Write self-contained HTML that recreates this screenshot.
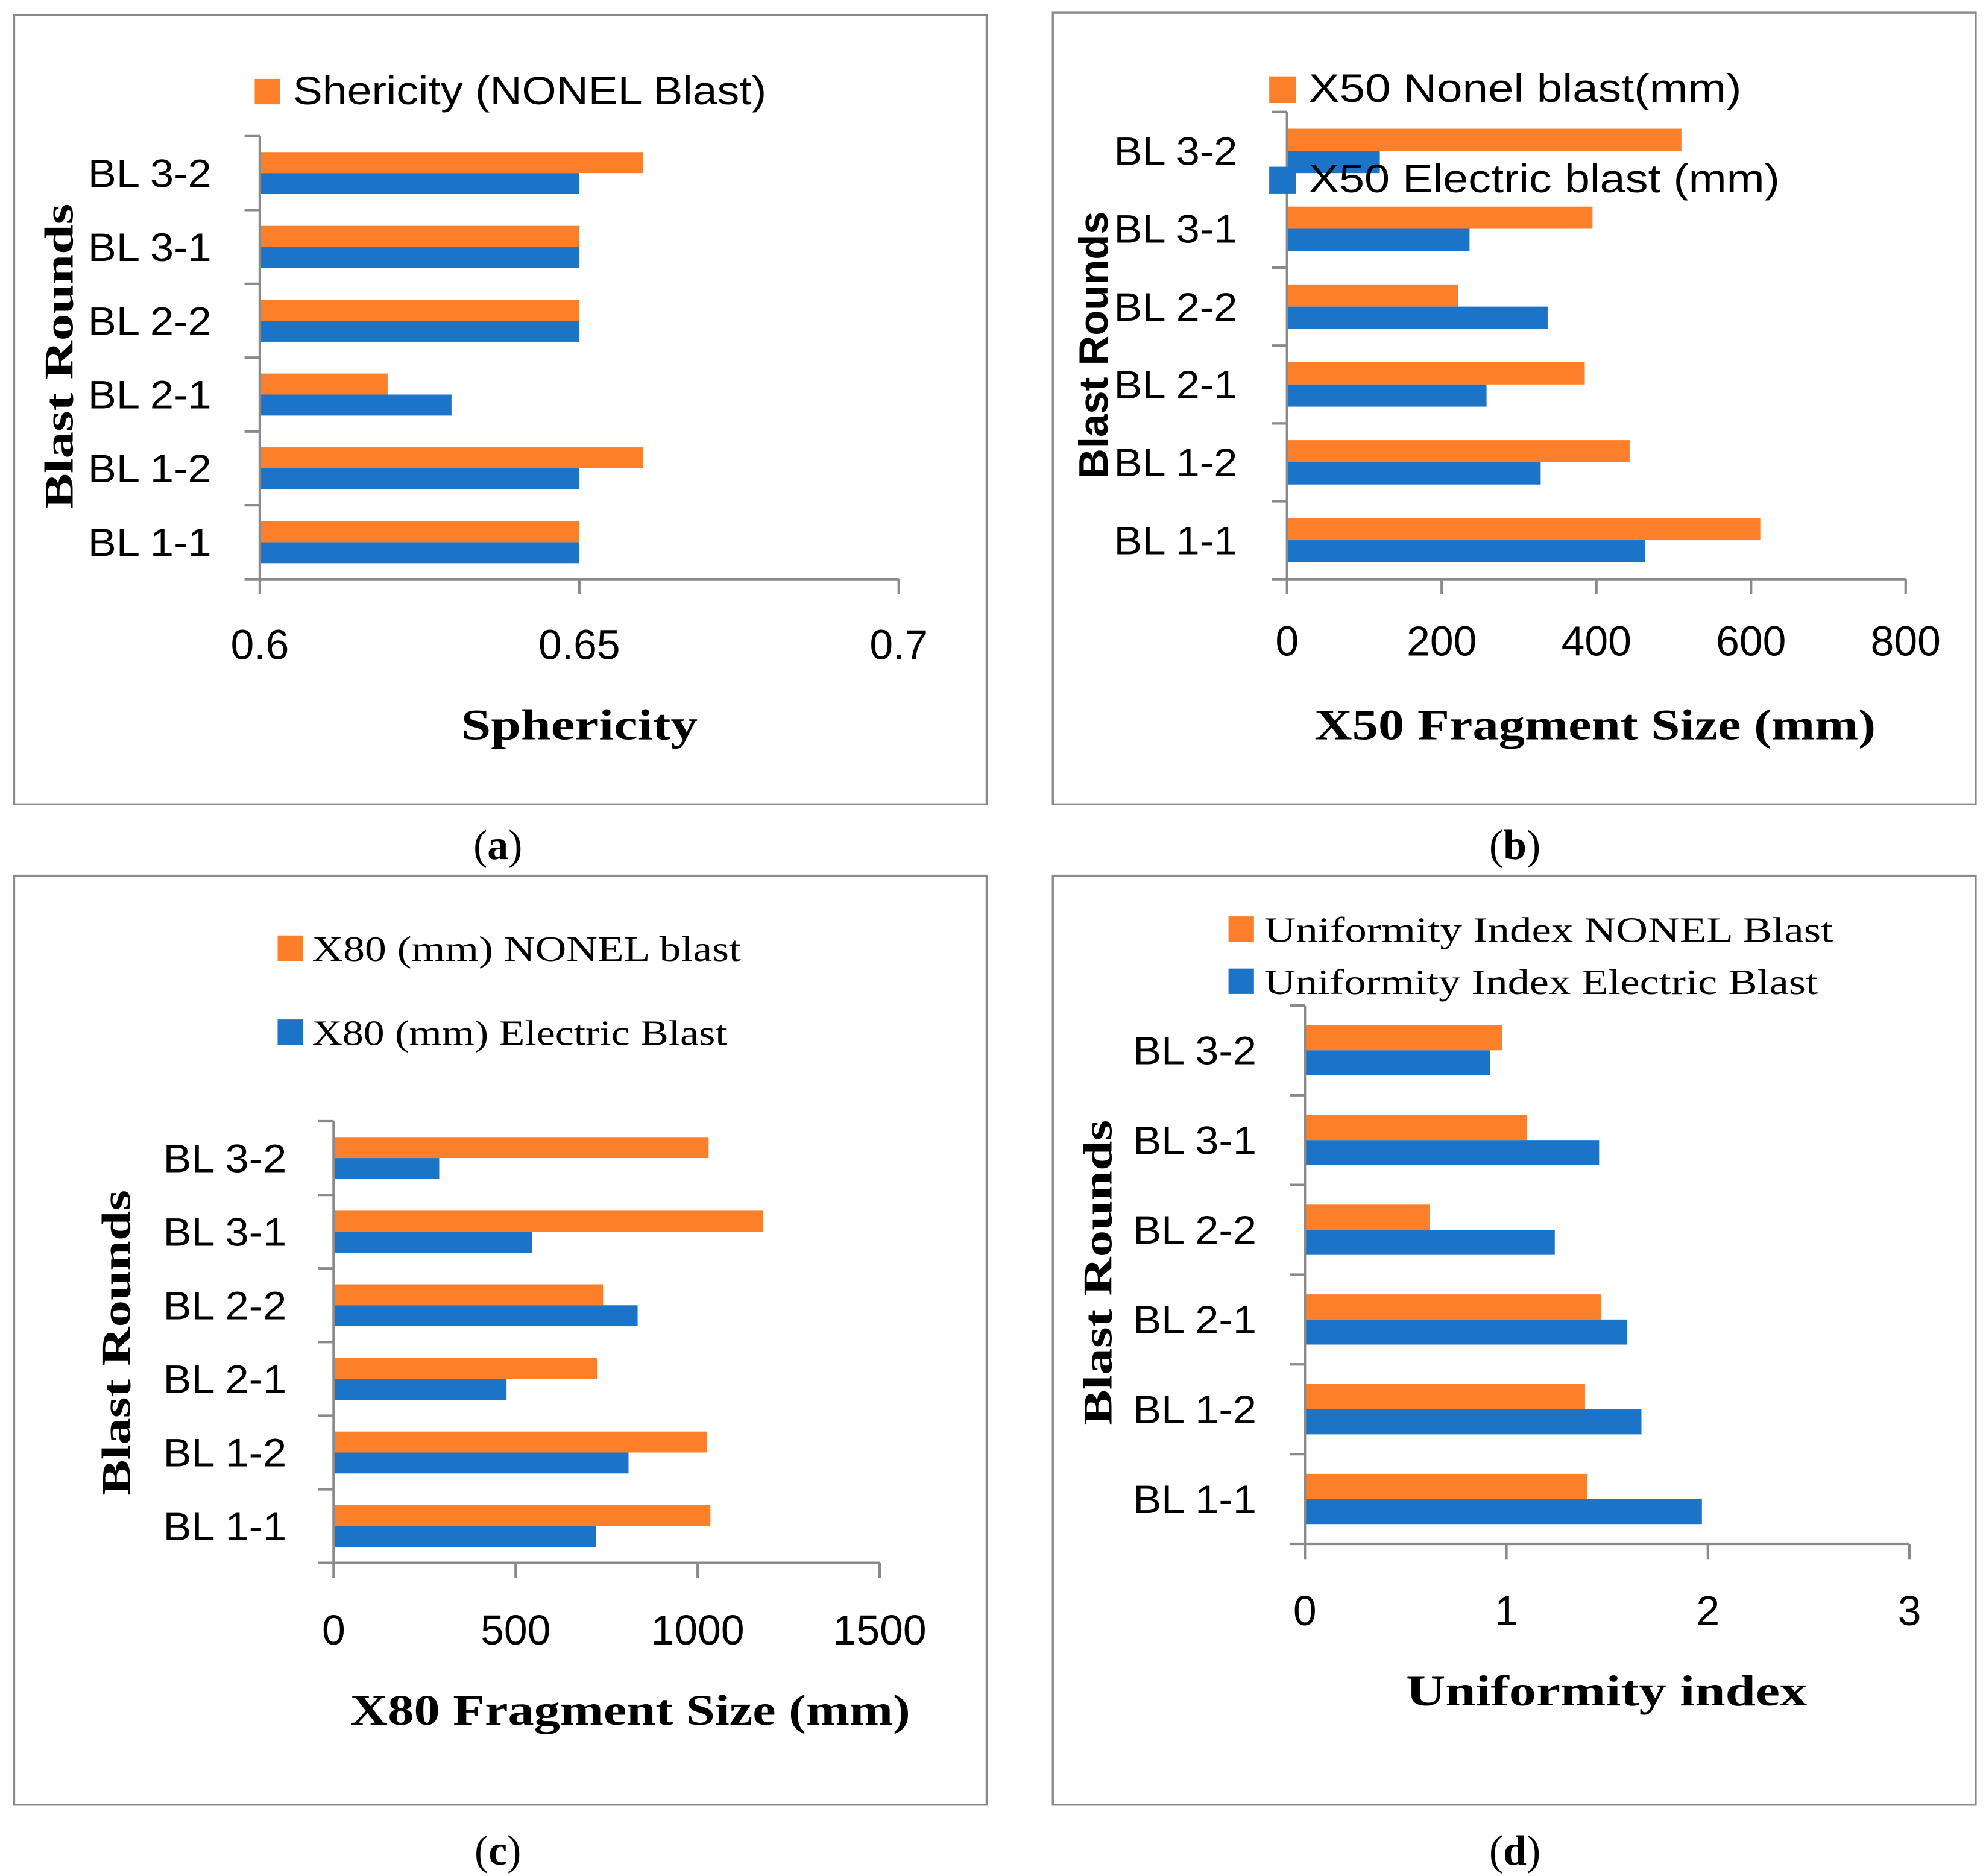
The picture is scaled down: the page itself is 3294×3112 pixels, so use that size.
<!DOCTYPE html>
<html><head><meta charset="utf-8"><style>html,body{margin:0;padding:0;background:#fff}svg{display:block}</style></head>
<body>
<svg id="fig" xmlns="http://www.w3.org/2000/svg" width="3294" height="3112" viewBox="0 0 1560 1474">
<rect x="0" y="0" width="1560" height="1474" fill="#fff"/>
</svg>
<script>
const categories = ["BL 1-1","BL 1-2","BL 2-1","BL 2-2","BL 3-1","BL 3-2"];
const sphNonel = [0.65,0.66,0.62,0.65,0.65,0.66];
const sphElec = [0.65,0.65,0.63,0.65,0.65,0.65];
const sphTicks = ["0.6","0.65","0.7"];
const x50Nonel = [612,443,385,221,395,510];
const x50Elec = [463,328,258,337,236,120];
const x50Ticks = ["0","200","400","600","800"];
const x80Nonel = [1035,1025,725,740,1180,1030];
const x80Elec = [720,810,475,835,545,290];
const x80Ticks = ["0","500","1000","1500"];
const uiNonel = [1.40,1.39,1.47,0.62,1.10,0.98];
const uiElec = [1.97,1.67,1.60,1.24,1.46,0.92];
const uiTicks = ["0","1","2","3"];

const NS="http://www.w3.org/2000/svg";
const svg=document.getElementById('fig');
const ORANGE="#fd7f2a", BLUE="#1b74c8", GREY="#8a8a8a";
function mk(tag,attrs,parent){const e=document.createElementNS(NS,tag);for(const k in attrs)e.setAttribute(k,attrs[k]);(parent||svg).appendChild(e);return e;}
function txt(s,attrs,parent){const e=mk('text',attrs,parent);e.textContent=s;return e;}

function chart(cfg){
  const g=mk('g',{});
  
  
  const box=mk('rect',{x:cfg.box[0],y:cfg.box[1],width:cfg.box[2]-cfg.box[0],height:cfg.box[3]-cfg.box[1],fill:'none',stroke:GREY,'stroke-width':1.6},g);
  
  
  const tmin=parseFloat(cfg.ticks[0]), tmax=parseFloat(cfg.ticks[cfg.ticks.length-1]);
  const xs=v=>cfg.x0+(v-tmin)/(tmax-tmin)*(cfg.x1-cfg.x0);
  const n=categories.length, band=(cfg.yb-cfg.yt)/n;
  const bh=band*cfg.bf;
  for(let i=0;i<n;i++){
    const top=cfg.yb-(i+1)*band;
    const oy=top+(band-2*bh)/2;
    const ob=mk('rect',{x:cfg.x0,y:oy,width:xs(cfg.nonel[i])-cfg.x0,height:bh,fill:ORANGE},g);
    
    
    const eb=mk('rect',{x:cfg.x0,y:oy+bh,width:xs(cfg.elec[i])-cfg.x0,height:bh,fill:BLUE},g);
    
    
    const lb=txt(categories[i],{x:cfg.labX,y:top+band/2+11,'text-anchor':'end','font-family':'"Liberation Sans",sans-serif','font-size':31,fill:'#000',textLength:97,lengthAdjust:'spacingAndGlyphs'},g);
    
    
  }
  const ya=mk('line',{x1:cfg.x0,y1:cfg.yt,x2:cfg.x0,y2:cfg.yb,stroke:GREY,'stroke-width':2},g);
  
  
  const xa=mk('line',{x1:cfg.x0-12,y1:cfg.yb,x2:cfg.x1,y2:cfg.yb,stroke:GREY,'stroke-width':2},g);
  
  
  for(let i=0;i<n;i++){
    mk('line',{x1:cfg.x0-12,y1:cfg.yt+i*band,x2:cfg.x0,y2:cfg.yt+i*band,stroke:GREY,'stroke-width':2},g);
  }
  cfg.ticks.forEach(t=>{
    const x=xs(parseFloat(t));
    mk('line',{x1:x,y1:cfg.yb,x2:x,y2:cfg.yb+12,stroke:GREY,'stroke-width':2},g);
    const tl=txt(t,{x:x,y:cfg.tickY,'text-anchor':'middle','font-family':'"Liberation Sans",sans-serif','font-size':33,fill:'#000'},g);
    
    
  });
  const xt=txt(cfg.xtitle,{x:cfg.xtX,y:cfg.xtY,'text-anchor':'middle','font-family':'"Liberation Serif",serif','font-weight':'bold','font-size':34,fill:'#000',textLength:cfg.xtW,lengthAdjust:'spacingAndGlyphs'},g);
  
  
  const yt=txt('Blast Rounds',{x:0,y:0,'text-anchor':'middle','font-family':cfg.ytSans?'"Liberation Sans",sans-serif':'"Liberation Serif",serif','font-weight':'bold','font-size':32,fill:'#000',textLength:cfg.ytW,lengthAdjust:'spacingAndGlyphs',transform:`translate(${cfg.ytX},${cfg.ytY}) rotate(-90)`},g);
  
  
  cfg.legend.forEach(L=>{
    const sq=mk('rect',{x:L.sx,y:L.y-20,width:L.ss,height:L.ss,fill:L.c},g);
    
    
    const lt=txt(L.t,{x:L.tx,y:L.y,'font-family':L.serif?'"Liberation Serif",serif':'"Liberation Sans",sans-serif','font-size':L.fs,fill:'#000',textLength:L.w,lengthAdjust:'spacingAndGlyphs'},g);
    
    
  });
  const cap=mk('text',{x:cfg.capX,y:cfg.capY,'text-anchor':'middle','font-family':'"Liberation Serif",serif','font-size':33,fill:'#000'},g);
  
  
  cap.appendChild(document.createTextNode('('));
  const b=mk('tspan',{'font-weight':'bold'},cap);b.textContent=cfg.cap;
  cap.appendChild(document.createTextNode(')'));
}

chart({name:'chart-sphericity',box:[11,12,775,632],x0:204,x1:706,yt:107,yb:455,bf:0.285,nonel:sphNonel,elec:sphElec,ticks:sphTicks,labX:166,tickY:518,
  xtitle:'Sphericity',xtX:455,xtY:581,xtW:186,ytX:57,ytY:280,ytW:240,
  legend:[{c:ORANGE,sx:200,ss:20,y:82,tx:230,t:'Shericity (NONEL Blast)',w:372,fs:31}],capX:391,capY:675,cap:'a'});
chart({name:'chart-x50',box:[827,10,1552,632],x0:1011,x1:1497,yt:88,yb:455,bf:0.285,nonel:x50Nonel,elec:x50Elec,ticks:x50Ticks,labX:972,tickY:515,
  xtitle:'X50 Fragment Size (mm)',xtX:1253,xtY:581,xtW:441,ytX:870,ytY:271,ytW:210,ytSans:true,
  legend:[{c:ORANGE,sx:997,ss:21,y:80,tx:1028,t:'X50 Nonel blast(mm)',w:340,fs:31},{c:BLUE,sx:997,ss:21,y:151,tx:1028,t:'X50 Electric blast (mm)',w:370,fs:31}],capX:1190,capY:675,cap:'b'});
chart({name:'chart-x80',box:[11,688,775,1418],x0:262,x1:691,yt:881,yb:1228,bf:0.285,nonel:x80Nonel,elec:x80Elec,ticks:x80Ticks,labX:225,tickY:1292,
  xtitle:'X80 Fragment Size (mm)',xtX:495,xtY:1355,xtW:440,ytX:102,ytY:1055,ytW:240,
  legend:[{c:ORANGE,sx:218,ss:20,y:755,tx:245,t:'X80 (mm) NONEL blast',w:337,fs:28,serif:true},{c:BLUE,sx:218,ss:20,y:821,tx:245,t:'X80 (mm) Electric Blast',w:326,fs:28,serif:true}],capX:391,capY:1465,cap:'c'});
chart({name:'chart-uniformity',box:[827,688,1552,1418],x0:1025,x1:1500,yt:790,yb:1213,bf:0.28,nonel:uiNonel,elec:uiElec,ticks:uiTicks,labX:987,tickY:1277,
  xtitle:'Uniformity index',xtX:1262,xtY:1340,xtW:315,ytX:873,ytY:1000,ytW:240,
  legend:[{c:ORANGE,sx:965,ss:20,y:740,tx:993,t:'Uniformity Index NONEL Blast',w:447,fs:28,serif:true},{c:BLUE,sx:965,ss:20,y:781,tx:993,t:'Uniformity Index Electric Blast',w:435,fs:28,serif:true}],capX:1190,capY:1465,cap:'d'});
</script>
</body></html>
